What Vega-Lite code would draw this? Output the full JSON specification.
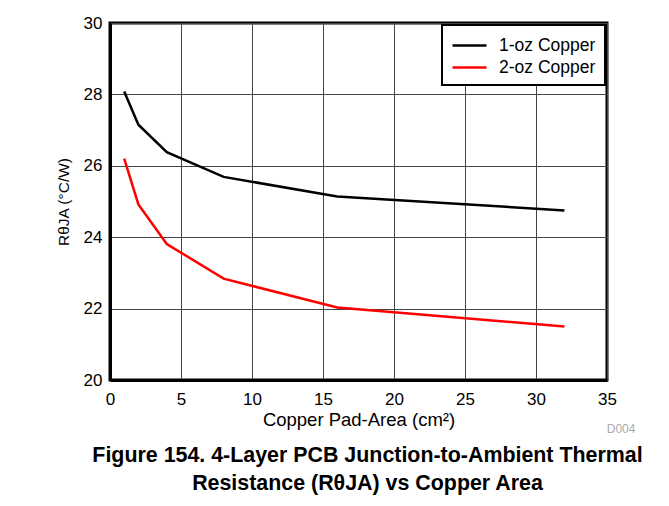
{
  "$schema": "https://vega.github.io/schema/vega-lite/v6.json",
  "width": 497,
  "height": 357,
  "autosize": "none",
  "padding": {"left": 110, "top": 23, "right": 62, "bottom": 126},
  "background": "white",
  "config": {
    "font": "Liberation Sans",
    "view": {"stroke": "black", "strokeWidth": 3},
    "axis": {
      "labelFont": "Liberation Sans",
      "titleFont": "Liberation Sans",
      "labelFontSize": 17,
      "titleFontSize": 17,
      "labelColor": "black",
      "titleColor": "black",
      "titleFontWeight": "normal",
      "domainColor": "black",
      "domainWidth": 3,
      "gridColor": "#444",
      "gridWidth": 1,
      "gridOpacity": 1,
      "ticks": false
    }
  },
  "title": {
    "text": ["Figure 154. 4-Layer PCB Junction-to-Ambient Thermal", "Resistance (RθJA) vs Copper Area"],
    "orient": "bottom",
    "anchor": "middle",
    "font": "Liberation Sans",
    "fontSize": 21.4,
    "fontWeight": "bold",
    "color": "black",
    "lineHeight": 28,
    "offset": 10,
    "dx": 9
  },
  "data": {
    "values": [
      {"area": 1, "r": 28.08, "series": "1-oz Copper"},
      {"area": 2, "r": 27.15, "series": "1-oz Copper"},
      {"area": 4, "r": 26.38, "series": "1-oz Copper"},
      {"area": 8, "r": 25.69, "series": "1-oz Copper"},
      {"area": 16, "r": 25.14, "series": "1-oz Copper"},
      {"area": 32, "r": 24.75, "series": "1-oz Copper"},
      {"area": 1, "r": 26.2, "series": "2-oz Copper"},
      {"area": 2, "r": 24.92, "series": "2-oz Copper"},
      {"area": 4, "r": 23.81, "series": "2-oz Copper"},
      {"area": 8, "r": 22.84, "series": "2-oz Copper"},
      {"area": 16, "r": 22.03, "series": "2-oz Copper"},
      {"area": 32, "r": 21.5, "series": "2-oz Copper"}
    ]
  },
  "layer": [
    {
      "mark": {"type": "line", "strokeWidth": 2.5},
      "encoding": {
        "x": {
          "field": "area",
          "type": "quantitative",
          "scale": {"domain": [0, 35], "nice": false},
          "axis": {"values": [0, 5, 10, 15, 20, 25, 30, 35], "title": "Copper Pad-Area (cm²)", "titleFontSize": 18.5, "labelPadding": 11, "titlePadding": 3, "labelFlush": false}
        },
        "y": {
          "field": "r",
          "type": "quantitative",
          "scale": {"domain": [20, 30], "nice": false, "zero": false},
          "axis": {"values": [20, 22, 24, 26, 28, 30], "title": "RθJA (°C/W)", "titleFontSize": 15.5, "labelPadding": 8, "titlePadding": 12}
        },
        "color": {
          "field": "series",
          "type": "nominal",
          "scale": {"domain": ["1-oz Copper", "2-oz Copper"], "range": ["#000000", "#ff0000"]},
          "legend": {
            "title": null,
            "orient": "top-right",
            "offset": 2,
            "symbolType": "M-1,0H2.4",
            "symbolSize": 400,
            "symbolStrokeWidth": 2.5,
            "symbolFillColor": "transparent",
            "labelFontSize": 17.5,
            "labelFont": "Liberation Sans",
            "labelColor": "black",
            "labelOffset": 25,
            "strokeColor": "black",
            "fillColor": "white",
            "padding": 9,
            "rowPadding": 2,
            "cornerRadius": 0,
            "encode": {"legend": {"update": {"strokeWidth": {"value": 2}}}}
          }
        }
      }
    },
    {
      "data": {"values": [{"label": "D004", "x": 37.0, "y": 18.62}]},
      "mark": {"type": "text", "fontSize": 12, "color": "#aaa", "align": "right", "baseline": "middle", "clip": false},
      "encoding": {
        "x": {"field": "x", "type": "quantitative"},
        "y": {"field": "y", "type": "quantitative"},
        "text": {"field": "label"}
      }
    }
  ]
}
